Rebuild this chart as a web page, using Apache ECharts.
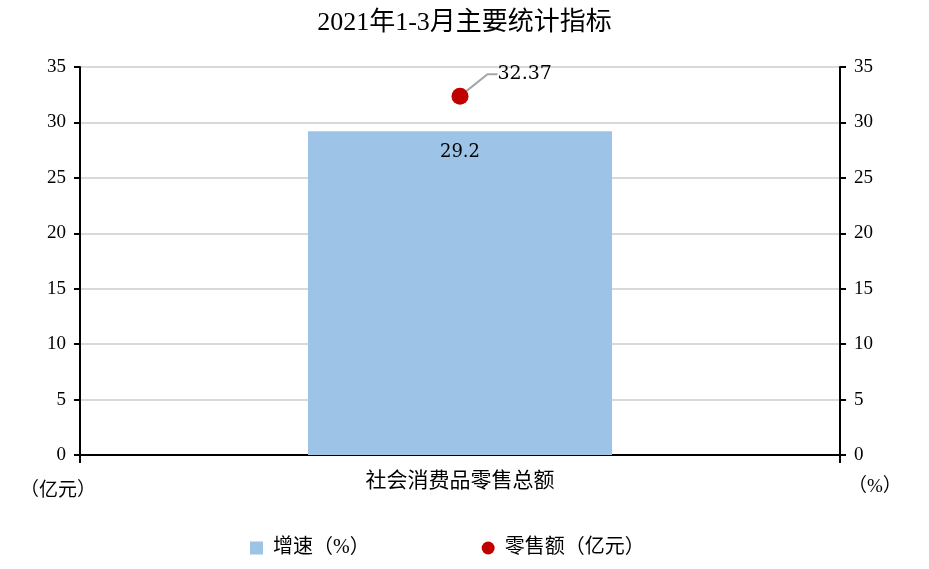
<!DOCTYPE html>
<html>
<head>
<meta charset="utf-8">
<script src="https://cdn.jsdelivr.net/npm/echarts@6/dist/echarts.min.js"></script>
<style>
  html, body { margin: 0; padding: 0; background: #fff; }
  #chart { width: 929px; height: 569px; }
</style>
</head>
<body>
<div id="chart"></div>
<script>
const categories = ['社会消费品零售总额'];
const growthRate = [29.2];      // 增速（%）
const retailSales = [32.37];    // 零售额（亿元）
const axisTicks = [0, 35, 5];   // min, max, interval

const FONT = '"Liberation Serif", "Noto Sans CJK SC", serif';
const NUM_FONT = '"DejaVu Serif", "Liberation Serif", serif';

let myChart = echarts.init(document.getElementById('chart'));
let option = {
  textStyle: { fontFamily: FONT },
  title: {
    text: '2021年1-3月主要统计指标',
    left: 'center',
    top: 5,
    textStyle: { fontFamily: FONT, fontSize: 26, fontWeight: 'normal', color: '#000' }
  },
  legend: {
    top: 538,
    left: 250,
    padding: 0,
    itemGap: 112,
    itemWidth: 13,
    itemHeight: 13,
    textStyle: { fontFamily: FONT, fontSize: 20, color: '#000', padding: [0, 0, 0, 5] },
    data: [
      { name: '增速（%）', icon: 'rect' },
      { name: '零售额（亿元）', icon: 'circle' }
    ]
  },
  grid: { left: 80, right: 89, top: 67, bottom: 114 },
  graphic: [
    { type: 'text', left: 20, top: 482, style: { text: '（亿元）', font: '19px ' + FONT, fill: '#000' } },
    { type: 'text', left: 848, top: 478, style: { text: '（%）', font: '19px ' + FONT, fill: '#000' } }
  ],
  xAxis: {
    type: 'category',
    data: categories,
    axisLine: { lineStyle: { color: '#000', width: 2 } },
    axisTick: { show: true, length: 8, lineStyle: { color: '#000', width: 2 } },
    axisLabel: { fontFamily: FONT, fontSize: 21, color: '#000', margin: 16 }
  },
  yAxis: [
    {
      type: 'value',
      min: axisTicks[0], max: axisTicks[1], interval: axisTicks[2],
      axisLine: { show: true, lineStyle: { color: '#000', width: 2 } },
      axisTick: { show: true, length: 6, lineStyle: { color: '#000', width: 2 } },
      axisLabel: { fontFamily: FONT, fontSize: 19, color: '#000', margin: 14 },
      splitLine: { show: true, lineStyle: { color: '#d9d9d9', width: 2 } }
    },
    {
      type: 'value',
      min: axisTicks[0], max: axisTicks[1], interval: axisTicks[2],
      axisLine: { show: true, lineStyle: { color: '#000', width: 2 } },
      axisTick: { show: true, length: 6, lineStyle: { color: '#000', width: 2 } },
      axisLabel: { fontFamily: FONT, fontSize: 19, color: '#000', margin: 14 },
      splitLine: { show: false }
    }
  ],
  series: [
    {
      name: '增速（%）',
      type: 'bar',
      yAxisIndex: 1,
      barWidth: '40%',
      data: growthRate,
      itemStyle: { color: '#9DC3E6' },
      label: {
        show: true,
        position: 'insideTop',
        distance: 12,
        fontFamily: NUM_FONT,
        fontSize: 18,
        color: '#000'
      }
    },
    {
      name: '零售额（亿元）',
      type: 'scatter',
      yAxisIndex: 0,
      symbol: 'circle',
      symbolSize: 17,
      data: retailSales,
      itemStyle: { color: '#C00000', opacity: 1 },
      label: {
        show: true,
        position: 'right',
        fontFamily: NUM_FONT,
        fontSize: 19,
        color: '#000',
        opacity: 1
      },
      labelLayout: { dx: 24, dy: -22 },
      labelLine: { show: true, length2: 10, lineStyle: { color: '#a6a6a6', width: 2, opacity: 1 } }
    }
  ]
};
myChart.setOption(option);
</script>
</body>
</html>
